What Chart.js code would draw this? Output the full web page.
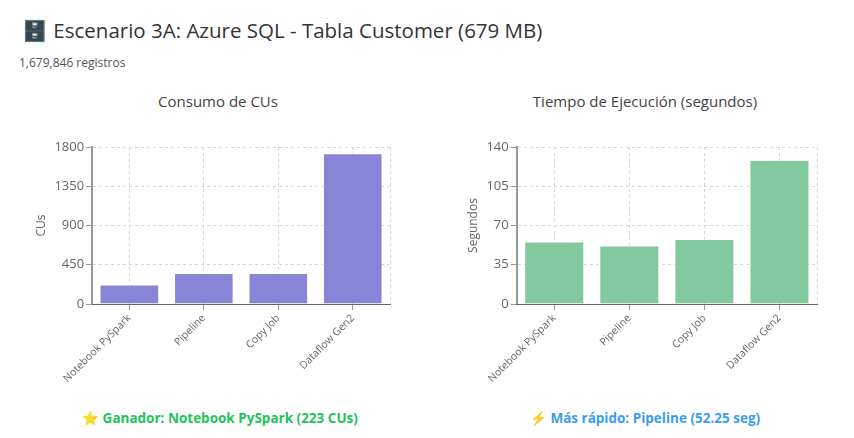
<!DOCTYPE html>
<html>
<head>
<meta charset="utf-8">
<script src="https://cdn.jsdelivr.net/npm/chart.js@4.4.1/dist/chart.umd.min.js"></script>
<style>
  body { margin: 0; background: #fff; font-family: "Open Sans", "Noto Sans", sans-serif; width: 854px; height: 438px; overflow: hidden; position: relative; }
  h2 { position: absolute; left: 22px; top: 16px; margin: 0; font-size: 20.5px; font-weight: 400; color: #333; white-space: nowrap; }
  .sub { position: absolute; left: 19px; top: 54px; font-size: 12px; color: #555; }
  .box { position: absolute; top: 88px; width: 420px; height: 305px; }
  .ctitle { position: absolute; top: 91px; width: 400px; text-align: center; font-size: 15px; line-height: 20px; color: #444; }
  .note { position: absolute; top: 409px; width: 420px; text-align: center; font-size: 13.5px; font-weight: 700; }
</style>
</head>
<body>
<h2>🗄️ Escenario 3A: Azure SQL - Tabla Customer (679 MB)</h2>
<div class="sub">1,679,846 registros</div>
<div class="ctitle" style="left:18px">Consumo de CUs</div>
<div class="ctitle" style="left:445px">Tiempo de Ejecución (segundos)</div>
<div class="box" style="left:8px"><canvas id="cuChart"></canvas></div>
<div class="box" style="left:435px"><canvas id="timeChart"></canvas></div>
<div class="note" style="left:10px; color:#1fc35a">⭐ Ganador: Notebook PySpark (223 CUs)</div>
<div class="note" style="left:435px; color:#3b9cf0">⚡ Más rápido: Pipeline (52.25 seg)</div>
<script>
const categories = ['Notebook PySpark', 'Pipeline', 'Copy Job', 'Dataflow Gen2'];
const cuValues = [223, 355, 356, 1728];
const timeValues = [55.8, 52.25, 58.1, 128.4];
const cuTicks = [0, 450, 900, 1350, 1800];
const timeTicks = [0, 35, 70, 105, 140];

// dashed frame on the right edge, like the reference grid
const edgeLine = {
    id: 'edgeLine',
    beforeDatasetsDraw(chart) {
        const a = chart.chartArea, c = chart.ctx;
        c.save();
        c.strokeStyle = '#d6d6d6';
        c.setLineDash([3, 3]);
        c.lineWidth = 1;
        c.beginPath();
        c.moveTo(a.right + 0.5, a.top);
        c.lineTo(a.right + 0.5, a.bottom);
        c.stroke();
        c.restore();
    }
};

const makeChart = (id, axisTitle, values, ticks, color, padLeft) => {
    new Chart(document.getElementById(id), {
        type: 'bar',
        data: {
            labels: categories,
            datasets: [{
                data: values,
                backgroundColor: color,
                borderColor: 'rgba(255,255,255,0.5)',
                borderWidth: 1,
                barPercentage: 0.8,
                categoryPercentage: 1.0
            }]
        },
        options: {
            responsive: true,
            maintainAspectRatio: false,
            animation: false,
            layout: { padding: { left: padLeft, right: 38, top: 59, bottom: 6 } },
            plugins: {
                legend: { display: false },
                tooltip: { enabled: false },
                title: { display: false }
            },
            scales: {
                y: {
                    min: ticks[0],
                    max: ticks[ticks.length - 1],
                    afterBuildTicks: (axis) => { axis.ticks = ticks.map(v => ({ value: v })); },
                    title: { display: true, text: axisTitle, color: '#666', font: { family: 'Open Sans', size: 12 }, padding: 4 },
                    ticks: { color: '#666', font: { family: 'Open Sans', size: 13 }, padding: 2, callback: (v) => String(v) },
                    grid: { color: '#d6d6d6', tickColor: '#999', tickBorderDash: [], tickLength: 6 },
                    border: { display: true, color: '#999', width: 2, dash: [3, 3] }
                },
                x: {
                    ticks: { color: '#666', font: { family: 'Open Sans', size: 10.5 }, maxRotation: 45, minRotation: 45, padding: 2 },
                    grid: { offset: false, color: '#d6d6d6', tickColor: '#999', tickBorderDash: [], tickLength: 6 },
                    border: { display: true, color: '#666', width: 1, dash: [3, 3] }
                }
            }
        },
        plugins: [edgeLine]
    });
};

makeChart('cuChart', 'CUs', cuValues, cuTicks, '#8884d8', 22);
makeChart('timeChart', 'Segundos', timeValues, timeTicks, '#82ca9d', 27);
</script>
</body>
</html>
